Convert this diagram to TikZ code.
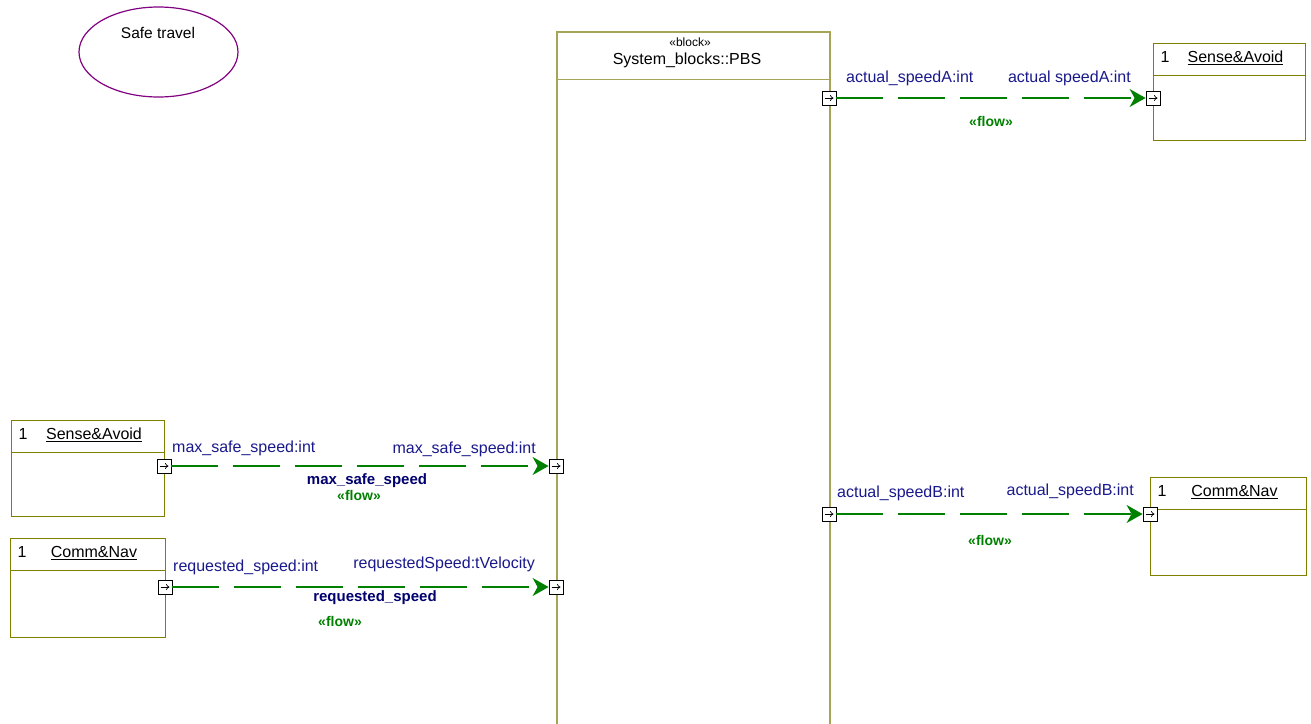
\documentclass[tikz,border=0pt]{standalone}
\usepackage{fontspec}
\setmainfont{Liberation Sans}
\usepackage{tikz}
\usetikzlibrary{arrows.meta,shapes.geometric}
\definecolor{frameolive}{RGB}{128,128,0}
\definecolor{blockolive}{RGB}{165,165,85}
\definecolor{flowgreen}{RGB}{0,128,0}
\definecolor{portnavy}{RGB}{25,25,140}
\definecolor{itemnavy}{RGB}{0,0,110}
\definecolor{usecasepurple}{RGB}{128,0,128}

\begin{document}
\begin{tikzpicture}[x=1pt, y=-1pt,
    txt/.style={inner sep=0pt, font=\fontsize{16}{19}\selectfont},
    part/.style={draw=frameolive, line width=1pt, anchor=north west, inner sep=0pt},
    port/.style={draw, fill=white, line width=0.8pt, minimum size=14pt, inner sep=0pt,
        path picture={\draw[line width=0.7pt, -{To[length=3.5pt, width=6pt]}] ([xshift=2.5pt]path picture bounding box.west) -- ([xshift=-2.5pt]path picture bounding box.east);}},
    flow/.style={flowgreen, line width=1.5pt, dash pattern=on 47pt off 15pt,
        -{Stealth[length=16pt, width=18pt, inset=5pt]}},
    endlbl/.style={txt, text=portnavy},
    item/.style={txt, text=itemnavy, font=\fontsize{15}{18}\selectfont\bfseries},
    stereo/.style={inner sep=0pt, text=flowgreen, font=\fontsize{14}{17}\selectfont\bfseries}]
    % internal block diagram of the PBS block
    \useasboundingbox (0,0) rectangle (1311,723);

    \node (safe) at (158.5,52) [ellipse, draw=usecasepurple, line width=1.2pt, minimum width=159pt, minimum height=90pt] {};
    \node (safetxt) at (158,33) [txt, font=\fontsize{15.5}{18}\selectfont] {Safe travel};

    % the block, running off the bottom of the page
    \node (pbs) at (556,31) [draw=blockolive, line width=2pt, anchor=north west, minimum width=273pt, minimum height=760pt] {};
    \draw [blockolive, line width=1pt] ([yshift=-48pt]pbs.north west) -- ([yshift=-48pt]pbs.north east);
    \node (pbsstereo) at (690,42) [txt, font=\fontsize{12}{14}\selectfont] {«block»};
    \node (pbsname) at (687,60) [txt] {System\_blocks::PBS};

    % parts
    \node (saR) at (1153,43) [part, minimum width=152pt, minimum height=97pt] {};
    \node (cnR) at (1150,477) [part, minimum width=156pt, minimum height=98pt] {};
    \node (saL) at (11,420) [part, minimum width=153pt, minimum height=96pt] {};
    \node (cnL) at (10,538) [part, minimum width=155pt, minimum height=99pt] {};
    \foreach \p in {saR,cnR,saL,cnL}
        \draw [frameolive, line width=1pt] ([yshift=-32pt]\p.north west) -- ([yshift=-32pt]\p.north east);

    \node (saRmult) at ([xshift=12pt, yshift=-19.5pt]saR.north west) [txt, anchor=base] {1};
    \node (saRname) at ([xshift=6pt, yshift=-19.5pt]saR.north) [txt, anchor=base] {\underline{Sense\&Avoid}};
    \node (cnRmult) at ([xshift=12pt, yshift=-19.5pt]cnR.north west) [txt, anchor=base] {1};
    \node (cnRname) at ([xshift=6pt, yshift=-19.5pt]cnR.north) [txt, anchor=base] {\underline{Comm\&Nav}};
    \node (saLmult) at ([xshift=12pt, yshift=-19.5pt]saL.north west) [txt, anchor=base] {1};
    \node (saLname) at ([xshift=6pt, yshift=-19.5pt]saL.north) [txt, anchor=base] {\underline{Sense\&Avoid}};
    \node (cnLmult) at ([xshift=12pt, yshift=-19.5pt]cnL.north west) [txt, anchor=base] {1};
    \node (cnLname) at ([xshift=6pt, yshift=-19.5pt]cnL.north) [txt, anchor=base] {\underline{Comm\&Nav}};

    % ports
    \node (pbsA) at (829,98) [port] {};
    \node (saRin) at (1153,98) [port] {};
    \node (pbsB) at (829,514) [port] {};
    \node (cnRin) at (1150,514) [port] {};
    \node (saLout) at (164,466) [port] {};
    \node (pbsC) at (556,466) [port] {};
    \node (cnLout) at (165,587) [port] {};
    \node (pbsD) at (556,587) [port] {};

    % item flows
    \draw [flow] (pbsA) -- (saRin);
    \draw [flow] (pbsB) -- (cnRin);
    \draw [flow] (saLout) -- (pbsC);
    \draw [flow] (cnLout) -- (pbsD);

    \node (lblA1) at (846,78) [endlbl, anchor=west] {actual\_speedA:int};
    \node (lblA2) at (1131,78) [endlbl, anchor=east] {actual speedA:int};
    \node (flowA) at (991,121) [stereo] {«flow»};

    \node (lblB1) at (837,493) [endlbl, anchor=west] {actual\_speedB:int};
    \node (lblB2) at (1134,491) [endlbl, anchor=east] {actual\_speedB:int};
    \node (flowB) at (990,540) [stereo] {«flow»};

    \node (lblC1) at (172,448) [endlbl, anchor=west] {max\_safe\_speed:int};
    \node (lblC2) at (536,449) [endlbl, anchor=east] {max\_safe\_speed:int};
    \node (itemC) at (367,481) [item] {max\_safe\_speed};
    \node (flowC) at (359,495) [stereo] {«flow»};

    \node (lblD1) at (173,567) [endlbl, anchor=west] {requested\_speed:int};
    \node (lblD2) at (535,564) [endlbl, anchor=east] {requestedSpeed:tVelocity};
    \node (itemD) at (375,598) [item] {requested\_speed};
    \node (flowD) at (340,621) [stereo] {«flow»};
\end{tikzpicture}
\end{document}
